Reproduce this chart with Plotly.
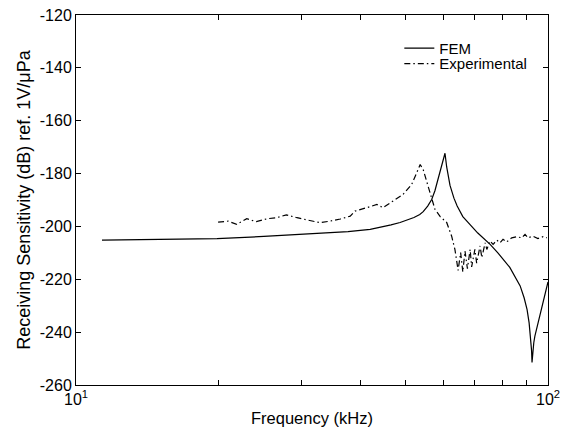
import plotly.graph_objects as go

# FEM (kHz, dB)
fem_f = [11.35, 15.0, 19.9, 25.0, 29.8, 33.5, 37.7, 42.0, 44.1, 46.5, 48.6, 50.2, 52.0, 53.5,
         54.4, 55.6, 56.7, 57.6, 58.5, 59.6, 60.5, 61.0, 61.5, 62.0, 63.2, 64.2, 66.0, 68.4,
         71.0, 75.4, 78.3, 83.0, 87.3, 89.0, 90.3, 91.2, 91.9, 92.3, 92.5, 92.8, 93.3, 93.8,
         95.2, 97.6, 100.0]
fem_db = [-205.2, -205.0, -204.6, -203.8, -203.0, -202.6, -202.0, -201.1, -200.4, -199.4,
          -198.5, -197.6, -196.6, -195.5, -194.4, -192.3, -189.8, -186.5, -182.0, -177.0,
          -172.3, -177.5, -181.5, -184.5, -189.3, -192.3, -196.3, -199.5, -202.5, -206.8,
          -210.0, -215.5, -222.5, -227.0, -231.5, -236.5, -242.0, -247.0, -251.5, -247.5,
          -244.0, -241.5, -236.5, -228.5, -221.0]

# Experimental (kHz, dB)
exp_f = [20.0, 21.0, 21.9, 23.0, 24.1, 25.4, 26.6, 27.9, 29.4, 30.8, 32.9, 34.5, 36.3, 38.1,
         39.0, 41.3, 43.4, 44.7, 47.0, 49.3, 51.4, 52.3, 53.6, 54.4, 55.7, 56.7, 57.6, 59.1,
         61.0, 62.5, 63.5, 64.5, 65.3, 66.0, 66.7, 67.5, 68.4, 68.9, 70.0, 70.6, 71.8, 72.4,
         73.6, 74.2, 75.4, 76.5, 77.9, 79.1, 80.3, 81.7, 83.8, 85.8, 88.0, 89.4, 90.7, 92.9,
         95.2, 97.6, 99.5]
exp_db = [-198.4, -198.0, -199.2, -197.1, -198.2, -197.1, -196.7, -195.6, -196.7, -197.6,
          -198.6, -198.0, -197.2, -196.1, -194.2, -192.9, -191.7, -192.9, -190.4, -187.9,
          -184.2, -181.0, -176.6, -178.5, -184.8, -189.8, -193.5, -196.3, -198.5, -203.7,
          -208.7, -216.6, -209.9, -217.2, -209.3, -216.0, -208.7, -215.3, -208.7, -213.9,
          -207.4, -211.8, -206.2, -208.7, -205.5, -206.8, -205.2, -206.2, -204.9, -205.9,
          -204.3, -203.9, -204.3, -203.0, -204.3, -203.7, -204.6, -203.9, -204.3]

x_tickvals = [10, 20, 30, 40, 50, 60, 70, 80, 90, 100]
x_ticktext = ["10<sup>1</sup>", "", "", "", "", "", "", "", "", "10<sup>2</sup>"]
y_tickvals = [-260, -240, -220, -200, -180, -160, -140, -120]
y_ticktext = ["-260", "-240", "-220", "-200", "-180", "-160", "-140", "-120"]

font = "Liberation Sans, Arial, sans-serif"

fig = go.Figure()
fig.add_trace(go.Scatter(x=fem_f, y=fem_db, mode="lines", name="FEM",
                         line=dict(color="black", width=1.2), legend="legend"))
fig.add_trace(go.Scatter(x=exp_f, y=exp_db, mode="lines", name="Experimental",
                         line=dict(color="black", width=1.2, dash="6px,3px,1.5px,3px"),
                         legend="legend2"))

axis_common = dict(showline=True, linecolor="black", linewidth=1, mirror="allticks",
                   ticks="inside", ticklen=5, tickcolor="black", showgrid=False,
                   zeroline=False, automargin=False,
                   tickfont=dict(size=16, color="black", family=font))

fig.update_xaxes(type="log", range=[1, 2], tickvals=x_tickvals, ticktext=x_ticktext,
                 title=dict(text="Frequency (kHz)", font=dict(size=16.5, color="black", family=font),
                            standoff=5),
                 **axis_common)
fig.update_yaxes(range=[-260, -120], tickvals=y_tickvals, ticktext=y_ticktext,
                 title=dict(text="Receiving Sensitivity (dB) ref. 1V/μPa",
                            font=dict(size=18, color="black", family=font), standoff=4),
                 **axis_common)

leg_common = dict(xanchor="left", yanchor="middle", bgcolor="rgba(0,0,0,0)", borderwidth=0,
                  font=dict(size=15, color="black", family=font), itemwidth=30)

fig.update_layout(
    width=571, height=429,
    margin=dict(l=76, r=23, t=15, b=44),
    paper_bgcolor="white", plot_bgcolor="white",
    font=dict(family=font, color="black"),
    showlegend=True,
    legend=dict(x=0.685, y=0.91, **leg_common),
    legend2=dict(x=0.685, y=0.868, **leg_common),
)

fig.write_html("out.html")
